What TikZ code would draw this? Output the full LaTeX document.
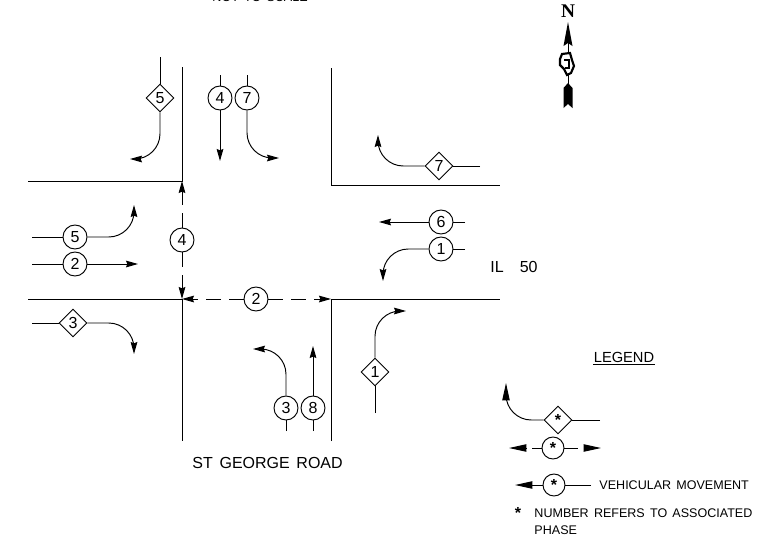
\documentclass[tikz,border=0pt]{standalone}
\usepackage{fontspec}
\setmainfont{Liberation Sans}
\newfontfamily\cadfont[WordSpace=1.5]{Liberation Sans}
\newfontfamily\northfont{Liberation Serif}
\usetikzlibrary{arrows.meta}
\usetikzlibrary{shapes.geometric}
\tikzset{
    phase/.style={draw, circle, fill=white, inner sep=0pt, minimum size=18pt, font=\fontsize{12}{14}\selectfont},
    phaselap/.style={draw, diamond, aspect=1, fill=white, inner sep=0pt, minimum size=21pt, font=\fontsize{12}{14}\selectfont},
    legcircle/.style={phase, minimum size=16.5pt},
    move/.style={-{Stealth[length=9pt,width=5pt,inset=1pt]}},
    bigmove/.style={-{Stealth[length=13pt,width=5.5pt,inset=0pt]}},
    turn/.style={move, rounded corners=19pt},
    walk/.style={move, dash pattern=on 11.25pt off 6pt},
    cadtext/.style={font=\cadfont\fontsize{9.4}{11}\selectfont, inner sep=0pt, anchor=west},
    roadtext/.style={cadtext, font=\cadfont\fontsize{12}{14}\selectfont}
}
\newcommand{\phasestar}{\raisebox{-2.5pt}{\bfseries *}}
\begin{document}
\begin{tikzpicture}[x=0.75pt, y=-0.75pt, line width=0.72pt]
        \useasboundingbox (0,0) rectangle (769,540);
        % road edges
        \draw (182,67) -- (182,181) -- (28,181);
        \draw (331,68) -- (331,185) -- (500,185);
        \draw (28,299) -- (182,299) -- (182,441);
        \draw (331,441) -- (331,299) -- (500,299);
        % north movements
        \node[phaselap] (d5) at (160,98) {5};
        \node[phase] (n4) at (220,98) {4};
        \node[phase] (n7) at (247,98) {7};
        \coordinate (d5s) at (160,57);
        \coordinate (d5e) at (130,159);
        \coordinate (n4s) at (220,75);
        \coordinate (n4e) at (220,161);
        \coordinate (n7s) at (247,75);
        \coordinate (n7e) at (279,158);
        \draw (d5s) -- (d5);
        \draw[turn] (d5) |- (d5e);
        \draw (n4s) -- (n4);
        \draw[move] (n4) -- (n4e);
        \draw (n7s) -- (n7);
        \draw[turn] (n7) |- (n7e);
        % east movements
        \node[phaselap] (d7) at (439,166) {7};
        \node[phase] (e6) at (441,222) {6};
        \node[phase] (e1) at (441,249) {1};
        \coordinate (d7s) at (480,166);
        \coordinate (d7e) at (378,135);
        \coordinate (e6s) at (465,222);
        \coordinate (e6e) at (379,222);
        \coordinate (e1s) at (465,249);
        \coordinate (e1e) at (383,281);
        \draw (d7s) -- (d7);
        \draw[turn] (d7) -| (d7e);
        \draw (e6s) -- (e6);
        \draw[move] (e6) -- (e6e);
        \draw (e1s) -- (e1);
        \draw[turn] (e1) -| (e1e);
        % west movements
        \node[phase] (w5) at (75,237) {5};
        \node[phase] (w2) at (75,264) {2};
        \node[phaselap] (d3) at (73,323) {3};
        \coordinate (w5s) at (32,237);
        \coordinate (w5e) at (134,205);
        \coordinate (w2s) at (32,264);
        \coordinate (w2e) at (138,264);
        \coordinate (d3s) at (32,323);
        \coordinate (d3e) at (134,354);
        \draw (w5s) -- (w5);
        \draw[turn] (w5) -| (w5e);
        \draw (w2s) -- (w2);
        \draw[move] (w2) -- (w2e);
        \draw (d3s) -- (d3);
        \draw[turn] (d3) -| (d3e);
        % south movements
        \node[phase] (s3) at (286,408) {3};
        \node[phase] (s8) at (313,408) {8};
        \node[phaselap] (d1) at (375,372) {1};
        \coordinate (s3s) at (286,431);
        \coordinate (s3e) at (253,349);
        \coordinate (s8s) at (313,431);
        \coordinate (s8e) at (313,346);
        \coordinate (d1s) at (375,413);
        \coordinate (d1e) at (406,311);
        \draw (s3s) -- (s3);
        \draw[turn] (s3) |- (s3e);
        \draw (s8s) -- (s8);
        \draw[move] (s8) -- (s8e);
        \draw (d1s) -- (d1);
        \draw[turn] (d1) |- (d1e);
        % pedestrian crossings
        \node[phase] (p4) at (182,240) {4};
        \node[phase] (p2) at (256,299) {2};
        \coordinate (p4n) at (182,181);
        \coordinate (p4s) at (182,299);
        \coordinate (p2w) at (182,299);
        \coordinate (p2e) at (331,299);
        \draw[walk] (p4) -- (p4n);
        \draw[walk] (p4) -- (p4s);
        \draw[walk] (p2) -- (p2w);
        \draw[walk] (p2) -- (p2e);
        % road names
        \node[cadtext] (title) at (212,-3) {NOT TO SCALE};
        \node[roadtext] (il50) at (490,267) {IL\hspace{1em}50};
        \node[roadtext] (stgeorge) at (192,463) {ST GEORGE ROAD};
        % north arrow
        \node[font=\northfont\bfseries\fontsize{14.5}{16}\selectfont, inner sep=0pt] (north) at (568,11) {N};
        \coordinate (stemtop) at (568,42);
        \coordinate (stembot) at (568,86);
        \draw (stemtop) -- (stembot);
        \fill (568,22) -- (572.5,46) -- (568,43) -- (563.5,46) -- cycle;
        \fill (568,83) -- (572.5,88) -- (572.5,108) -- (568,104) -- (563.5,108) -- (563.5,88) -- cycle;
        \draw[line width=1.6pt, fill=white] (562,54) -- (570,53) -- (572,60) -- (574,66) -- (571,73) -- (567,75) -- (564,69) -- (560,65) -- (560,59) -- cycle;
        \draw[line width=1.2pt] (564,60) -- (569,60) -- (569,68) -- (565,68);
        % legend
        \node[cadtext, anchor=center, font=\cadfont\fontsize{11}{13}\selectfont] (legend) at (624,357) {LEGEND};
        \draw (legend.south west) ++(0,2) coordinate (lega) -- (legend.south east |- lega);
        \node[phaselap] (lg1) at (558,420) {\phasestar};
        \coordinate (lg1s) at (600,420);
        \coordinate (lg1e) at (506,383);
        \draw (lg1s) -- (lg1);
        \draw[bigmove, rounded corners=19pt] (lg1) -| (lg1e);
        \node[legcircle] (lg2) at (553,448) {\phasestar};
        \coordinate (lg2l) at (532,448);
        \coordinate (lg2r) at (578,448);
        \coordinate (lg2la) at (527,448);
        \coordinate (lg2le) at (509,448);
        \coordinate (lg2ra) at (584,448);
        \coordinate (lg2re) at (601,448);
        \draw (lg2l) -- (lg2) -- (lg2r);
        \draw[bigmove] (lg2la) -- (lg2le);
        \draw[bigmove] (lg2ra) -- (lg2re);
        \node[legcircle] (lg3) at (554,485) {\phasestar};
        \coordinate (lg3s) at (591,485);
        \coordinate (lg3e) at (515,485);
        \draw (lg3s) -- (lg3);
        \draw[bigmove] (lg3) -- (lg3e);
        \node[cadtext] (vehicular) at (599,485) {VEHICULAR MOVEMENT};
        \node[inner sep=0pt, font=\fontsize{12}{14}\selectfont] (star) at (518,513) {\phasestar};
        \node[cadtext] (number) at (534,513) {NUMBER REFERS TO ASSOCIATED};
        \node[cadtext] (phasetext) at (534,530) {PHASE};
    \end{tikzpicture}
\end{document}
